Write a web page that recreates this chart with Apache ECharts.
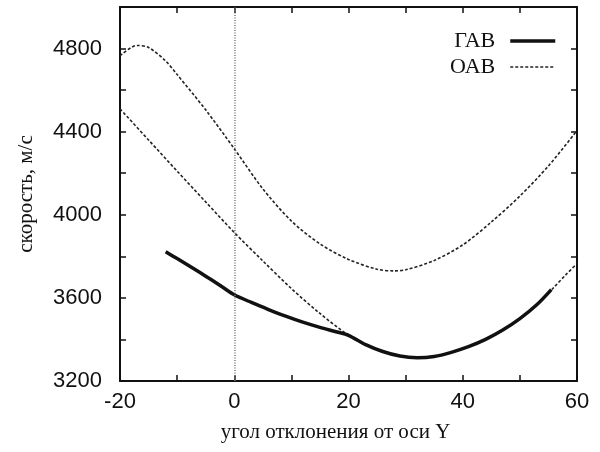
<!DOCTYPE html>
<html>
<head>
<meta charset="utf-8">
<script src="https://cdn.jsdelivr.net/npm/echarts@6/dist/echarts.min.js"></script>
<style>html,body{margin:0;padding:0;background:#fff}#c{width:600px;height:452px}</style>
</head>
<body>
<div id="c"></div>
<script>
// Data
var gavName = 'ГАВ';
var oavName = 'ОАВ';
var xTitle = 'угол отклонения от оси Y';
var yTitle = 'скорость, м/с';

var upperX = [-20,-17,-15,-12,-10,-5,0,5,10,15,20,25,28,30,35,40,45,50,55,60];
var upperY = [4765,4815,4805,4740,4675,4505,4318,4125,3970,3860,3785,3738,3730,3735,3780,3855,3965,4090,4235,4405];

var lowerX = [-20,-15,-10,-5,0,5,10,15,20,23,26,29,32,35,38,41,44,47,50,53,56,58,60];
var lowerY = [4510,4360,4210,4062,3915,3778,3645,3525,3420,3375,3342,3320,3312,3318,3338,3365,3400,3445,3500,3568,3652,3710,3765];

var gavX = [-12,-10,-8,-6,-4,-2,0,3,6,9,12,15,18,20,23,26,29,32,35,38,41,44,47,50,53,55.5];
var gavY = [3822,3789,3756,3722,3687,3651,3615,3578,3544,3512,3483,3458,3436,3420,3375,3342,3320,3312,3318,3338,3365,3400,3445,3500,3568,3640];

var xMin = -20, xMax = 60, xStep = 10, xLabelStep = 20;
var yMin = 3200, yMax = 5000, yStep = 200, yLabelStep = 400, yLabelMax = 4800;

function pairs(xs, ys) { return xs.map(function (x, i) { return [x, ys[i]]; }); }

var chart = echarts.init(document.getElementById('c'));
var sansFont = '"Liberation Sans", Arial, sans-serif';
var serifFont = '"Liberation Serif", "Times New Roman", serif';
var axisLine = { show: true, onZero: false, lineStyle: { color: '#111', width: 2 } };
var tick = { show: true, inside: true, length: 6, lineStyle: { color: '#111', width: 1.5 } };

chart.setOption({
  animation: false,
  backgroundColor: '#fff',
  grid: { left: 120, right: 23, top: 7, bottom: 71 },
  legend: {
    orient: 'vertical',
    right: 38,
    top: 25,
    align: 'right',
    itemWidth: 45,
    itemHeight: 14,
    itemGap: 4,
    data: [
      { name: gavName, lineStyle: { width: 3.5, color: '#111' } },
      { name: oavName, lineStyle: { width: 1.6, color: '#222', type: [3, 2] } }
    ],
    itemStyle: { opacity: 0 },
    textStyle: { fontFamily: serifFont, fontSize: 22, color: '#111', padding: [0, 10, 0, 0] }
  },
  xAxis: [{
    type: 'value', min: xMin, max: xMax, interval: xStep,
    name: xTitle, nameLocation: 'middle', nameGap: 41,
    nameTextStyle: { fontFamily: serifFont, fontSize: 21, color: '#111', padding: [0, 26, 0, 0] },
    axisLine: axisLine, axisTick: tick, splitLine: { show: false },
    axisLabel: {
      margin: 10, fontFamily: sansFont, fontSize: 22, color: '#111',
      formatter: function (v) { return ((v - xMin) % xLabelStep === 0) ? String(v) : ''; }
    }
  }, {
    type: 'value', position: 'top', min: xMin, max: xMax, interval: xStep,
    axisLine: axisLine, axisTick: tick, splitLine: { show: false }, axisLabel: { show: false }
  }],
  yAxis: [{
    type: 'value', min: yMin, max: yMax, interval: yStep,
    name: yTitle, nameLocation: 'middle', nameGap: 83,
    nameTextStyle: { fontFamily: serifFont, fontSize: 21, color: '#111' },
    axisLine: axisLine, axisTick: tick, splitLine: { show: false },
    axisLabel: {
      margin: 18, fontFamily: sansFont, fontSize: 22, color: '#111',
      formatter: function (v) { return ((v - yMin) % yLabelStep === 0 && v <= yLabelMax) ? String(v) : ''; }
    }
  }, {
    type: 'value', position: 'right', min: yMin, max: yMax, interval: yStep,
    axisLine: axisLine, axisTick: tick, splitLine: { show: false }, axisLabel: { show: false }
  }],
  series: [{
    name: oavName, type: 'line', symbol: 'none', smooth: 0.3,
    data: pairs(upperX, upperY),
    lineStyle: { color: '#222', width: 1.6, type: [3, 2] },
    itemStyle: { color: '#222' },
    markLine: {
      silent: true, symbol: 'none', label: { show: false },
      lineStyle: { color: '#777', width: 1.5, type: [1, 1.5] },
      data: [{ xAxis: 0 }]
    }
  }, {
    name: oavName, type: 'line', symbol: 'none', smooth: 0.3,
    data: pairs(lowerX, lowerY),
    lineStyle: { color: '#222', width: 1.6, type: [3, 2] },
    itemStyle: { color: '#222' }
  }, {
    name: gavName, type: 'line', symbol: 'none', smooth: 0.3,
    data: pairs(gavX, gavY),
    lineStyle: { color: '#111', width: 3.5, type: 'solid' },
    itemStyle: { color: '#111' }
  }]
});
</script>
</body>
</html>
